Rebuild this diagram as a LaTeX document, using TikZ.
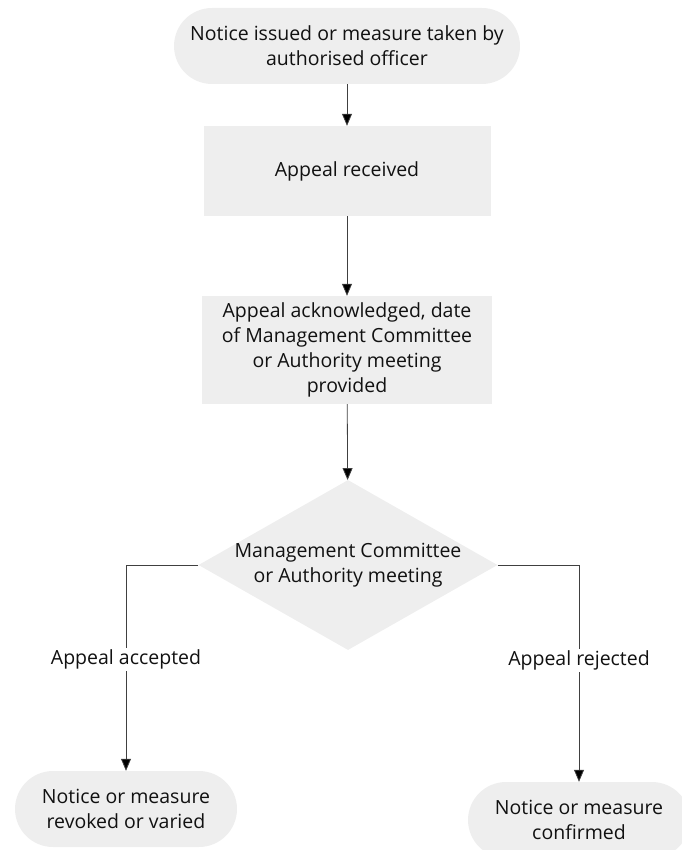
\documentclass[tikz,border=0pt]{standalone}
\usepackage{fontspec}
\setmainfont{Open Sans}
\usetikzlibrary{arrows.meta,shapes.geometric}
\definecolor{boxfill}{HTML}{EEEEEE}
\definecolor{linecol}{HTML}{404040}
\definecolor{txtcol}{HTML}{111111}
\tikzset{
  x=1pt,y=-1pt,
  every node/.style={font=\fontsize{19.5}{25}\selectfont, text=txtcol, align=center},
  term/.style={fill=boxfill, draw=none, rounded corners=38pt, minimum width=222pt, minimum height=76pt, inner sep=0pt},
  procbox/.style={fill=boxfill, draw=none, inner sep=0pt},
  decision/.style={diamond, fill=boxfill, draw=none, inner sep=0pt, minimum width=299pt, minimum height=170pt},
  conn/.style={draw=linecol, line width=0.8pt, -{Triangle[length=12pt,width=10pt,fill=black]}},
  lbl/.style={fill=white, inner sep=2pt}
}
\begin{document}
\begin{tikzpicture}
\useasboundingbox (0,0) rectangle (681,850);
\node[term, minimum width=346pt, minimum height=76pt] (n1) at (347,46) {Notice issued or measure taken by\\authorised officer};
\node[procbox, minimum width=287pt, minimum height=90pt] (n2) at (347,171) {Appeal received};
\node[procbox, minimum width=290pt, minimum height=108pt] (n3) at (347,350) {Appeal acknowledged, date\\of Management Committee\\or Authority meeting\\provided};
\node[decision] (d) at (348,565) {};
\node (dt) at (d.center) {Management Committee\\or Authority meeting};
\node[term] (l) at (126,809) {Notice or measure\\revoked or varied};
\node[term] (r) at (579,820) {Notice or measure\\confirmed};
\draw[conn] (n1) -- (n2);
\draw[conn] (n2) -- (n3);
\draw[conn] (n3) -- (d);
\draw[conn] (d.west) -| node[lbl, pos=0.73] {Appeal accepted} (l.north);
\draw[conn] (d.east) -| node[lbl, pos=0.72] {Appeal rejected} (r.north);
\end{tikzpicture}
\end{document}
